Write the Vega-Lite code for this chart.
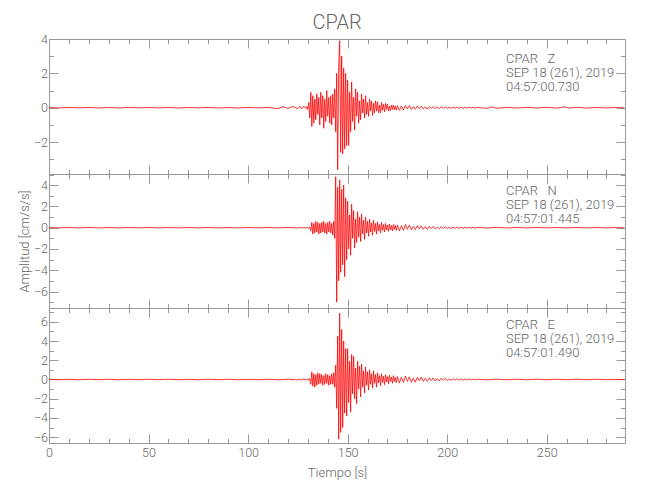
{
  "$schema": "https://vega.github.io/schema/vega-lite/v6.json",
  "padding": {"left": 17, "top": 12, "right": 5, "bottom": 5},
  "background": "white",
  "spacing": 0,
  "bounds": "flush",
  "title": {"text": "CPAR", "fontSize": 20, "font": "Roboto", "fontWeight": 300, "color": "#666", "anchor": "middle", "frame": "group", "offset": 0},
  "datasets": {
    "Z": [
      {"t":0,"a":0.015},{"t":5,"a":-0.015},{"t":10,"a":0.015},{"t":15,"a":-0.01},{"t":20,"a":0.015},{"t":25,"a":-0.015},{"t":30,"a":0.01},{"t":35,"a":-0.015},{"t":40,"a":0.015},{"t":45,"a":-0.01},{"t":50,"a":0.015},{"t":55,"a":-0.015},{"t":60,"a":0.01},{"t":65,"a":-0.015},{"t":70,"a":0.015},{"t":75,"a":-0.01},{"t":80,"a":0.015},{"t":85,"a":-0.015},{"t":90,"a":0.01},{"t":95,"a":-0.015},{"t":100,"a":0.015},{"t":105,"a":-0.01},{"t":110,"a":0.015},{"t":115,"a":-0.05},{"t":117.5,"a":0.06},{"t":120,"a":-0.04},{"t":122.5,"a":0.07},{"t":125,"a":-0.06},{"t":126,"a":0.08},{"t":127,"a":-0.07},{"t":128,"a":0.09},{"t":129,"a":-0.06},{"t":129.5,"a":0.08},{"t":130,"a":-0.1},
      {"t":130.5,"a":0.3},{"t":131,"a":-0.6},{"t":131.5,"a":0.9},{"t":132,"a":-1.1},{"t":132.5,"a":0.7},{"t":133,"a":-0.9},{"t":133.5,"a":0.5},{"t":134,"a":-0.7},{"t":134.5,"a":0.8},{"t":135,"a":-0.4},{"t":135.5,"a":0.6},{"t":136,"a":-1.0},{"t":136.5,"a":0.9},{"t":137,"a":-0.6},{"t":137.5,"a":0.7},{"t":138,"a":-1.2},{"t":138.5,"a":0.5},{"t":139,"a":-0.8},{"t":139.5,"a":1.0},{"t":140,"a":-0.5},{"t":140.5,"a":0.6},{"t":141,"a":-0.9},{"t":141.5,"a":0.7},{"t":142,"a":-1.0},{"t":142.5,"a":0.8},{"t":143,"a":-0.6},{"t":143.5,"a":1.1},{"t":144,"a":-1.4},{"t":144.5,"a":2.0},{"t":145,"a":-3.6},{"t":145.5,"a":2.4},{"t":146,"a":3.9},{"t":146.5,"a":-2.6},{"t":147,"a":3.0},{"t":147.5,"a":-2.7},{"t":148,"a":2.3},{"t":148.5,"a":-2.4},{"t":149,"a":2.0},{"t":149.5,"a":-2.2},
      {"t":150,"a":1.6},{"t":150.5,"a":-2.2},{"t":151,"a":0.9},{"t":151.5,"a":-1.4},{"t":152,"a":1.5},{"t":152.5,"a":-0.8},{"t":153,"a":0.6},{"t":153.5,"a":-1.3},{"t":154,"a":1.1},{"t":154.5,"a":-0.5},{"t":155,"a":0.9},{"t":155.5,"a":-0.9},{"t":156,"a":0.4},{"t":156.5,"a":-0.7},{"t":157,"a":0.8},{"t":157.5,"a":-0.3},{"t":158,"a":0.5},{"t":158.5,"a":-0.6},{"t":159,"a":0.7},{"t":159.5,"a":-0.4},{"t":160,"a":0.3},{"t":160.5,"a":-0.5},{"t":161,"a":0.5},{"t":161.5,"a":-0.2},{"t":162,"a":0.4},{"t":162.5,"a":-0.45},{"t":163,"a":0.25},{"t":163.5,"a":-0.3},{"t":164,"a":0.4},{"t":164.5,"a":-0.2},{"t":165,"a":0.35},{"t":165.5,"a":-0.3},{"t":166,"a":0.15},{"t":166.5,"a":-0.3},{"t":167,"a":0.3},{"t":167.5,"a":-0.15},{"t":168,"a":0.2},{"t":168.5,"a":-0.25},{"t":169,"a":0.25},{"t":169.5,"a":-0.1},{"t":170,"a":0.2},{"t":170.5,"a":-0.2},{"t":171,"a":0.1},{"t":171.5,"a":-0.18},{"t":172,"a":0.15},{"t":172.5,"a":-0.1},{"t":173,"a":0.16},{"t":173.5,"a":-0.12},{"t":174,"a":0.08},{"t":174.5,"a":-0.14},{"t":175,"a":0.12},
      {"t":176,"a":-0.15},{"t":177,"a":0.1},{"t":178,"a":-0.14},{"t":179,"a":0.13},{"t":180,"a":-0.07},{"t":181,"a":0.12},{"t":182,"a":-0.1},{"t":183,"a":0.06},{"t":184,"a":-0.09},{"t":185,"a":0.1},{"t":186,"a":-0.05},{"t":187,"a":0.09},{"t":188,"a":-0.08},{"t":189,"a":0.05},{"t":190,"a":-0.08},{"t":191,"a":0.07},{"t":192,"a":-0.04},{"t":193,"a":0.07},{"t":194,"a":-0.06},{"t":195,"a":0.04},{"t":196,"a":-0.05},{"t":197,"a":0.06},{"t":198,"a":-0.03},{"t":199,"a":0.05},{"t":200,"a":-0.05},{"t":201,"a":0.03},{"t":202,"a":-0.04},{"t":203,"a":0.05},{"t":204,"a":-0.03},{"t":205,"a":0.04},{"t":206,"a":-0.04},{"t":207,"a":0.03},{"t":208,"a":-0.04},{"t":209,"a":0.03},{"t":210,"a":-0.03},{"t":211,"a":0.04},{"t":212,"a":-0.02},{"t":213,"a":0.03},{"t":214,"a":-0.03},{"t":215,"a":0.02},
      {"t":220,"a":-0.04},{"t":222,"a":0.05},{"t":225,"a":-0.03},{"t":230,"a":0.02},{"t":235,"a":-0.02},{"t":240,"a":0.02},{"t":245,"a":-0.02},{"t":250,"a":0.02},{"t":255,"a":-0.02},{"t":259,"a":0.05},{"t":261,"a":-0.02},{"t":265,"a":0.02},{"t":270,"a":-0.02},{"t":275,"a":0.015},{"t":280,"a":-0.015},{"t":285,"a":0.015},{"t":289,"a":-0.01}
    ],
    "N": [
      {"t":0,"a":0.02},{"t":5,"a":-0.02},{"t":10,"a":0.02},{"t":15,"a":-0.015},{"t":20,"a":0.02},{"t":25,"a":-0.02},{"t":30,"a":0.015},{"t":35,"a":-0.02},{"t":40,"a":0.02},{"t":45,"a":-0.015},{"t":50,"a":0.02},{"t":55,"a":-0.02},{"t":60,"a":0.015},{"t":65,"a":-0.02},{"t":70,"a":0.02},{"t":75,"a":-0.015},{"t":80,"a":0.02},{"t":85,"a":-0.02},{"t":90,"a":0.015},{"t":95,"a":-0.02},{"t":100,"a":0.02},{"t":105,"a":-0.015},{"t":110,"a":0.02},{"t":115,"a":-0.02},{"t":120,"a":0.03},{"t":125,"a":-0.03},{"t":126,"a":0.04},{"t":127,"a":-0.04},{"t":128,"a":0.05},{"t":129,"a":-0.04},{"t":130,"a":0.05},{"t":130.5,"a":-0.07},
      {"t":131,"a":0.05},{"t":131.5,"a":-0.3},{"t":132,"a":0.5},{"t":132.5,"a":-0.6},{"t":133,"a":0.4},{"t":133.5,"a":-0.5},{"t":134,"a":0.6},{"t":134.5,"a":-0.4},{"t":135,"a":0.5},{"t":135.5,"a":-0.6},{"t":136,"a":0.4},{"t":136.5,"a":-0.5},{"t":137,"a":0.5},{"t":137.5,"a":-0.4},{"t":138,"a":0.6},{"t":138.5,"a":-0.5},{"t":139,"a":0.4},{"t":139.5,"a":-0.6},{"t":140,"a":0.5},{"t":140.5,"a":-0.4},{"t":141,"a":0.6},{"t":141.5,"a":-0.5},{"t":142,"a":0.4},{"t":142.5,"a":-0.7},{"t":143,"a":0.6},{"t":143.5,"a":-1.0},{"t":144,"a":4.8},{"t":144.5,"a":-7.0},{"t":145,"a":3.8},{"t":145.5,"a":-5.0},{"t":146,"a":4.5},{"t":146.5,"a":-4.2},{"t":147,"a":3.6},{"t":147.5,"a":-3.5},{"t":148,"a":4.0},{"t":148.5,"a":-4.6},{"t":149,"a":2.8},{"t":149.5,"a":-3.0},
      {"t":150,"a":2.5},{"t":150.5,"a":-2.0},{"t":151,"a":1.2},{"t":151.5,"a":-2.6},{"t":152,"a":2.2},{"t":152.5,"a":-1.0},{"t":153,"a":1.6},{"t":153.5,"a":-1.9},{"t":154,"a":0.8},{"t":154.5,"a":-1.4},{"t":155,"a":1.5},{"t":155.5,"a":-0.9},{"t":156,"a":1.0},{"t":156.5,"a":-1.3},{"t":157,"a":1.3},{"t":157.5,"a":-0.6},{"t":158,"a":0.7},{"t":158.5,"a":-1.1},{"t":159,"a":1.0},{"t":159.5,"a":-0.5},{"t":160,"a":0.6},{"t":160.5,"a":-0.8},{"t":161,"a":0.8},{"t":161.5,"a":-0.4},{"t":162,"a":0.45},{"t":162.5,"a":-0.7},{"t":163,"a":0.7},{"t":163.5,"a":-0.35},{"t":164,"a":0.4},{"t":164.5,"a":-0.6},{"t":165,"a":0.55},{"t":165.5,"a":-0.3},{"t":166,"a":0.3},{"t":166.5,"a":-0.5},{"t":167,"a":0.5},{"t":167.5,"a":-0.25},{"t":168,"a":0.3},{"t":168.5,"a":-0.4},{"t":169,"a":0.4},{"t":169.5,"a":-0.2},{"t":170,"a":0.25},{"t":170.5,"a":-0.35},{"t":171,"a":0.35},{"t":171.5,"a":-0.2},{"t":172,"a":0.2},{"t":172.5,"a":-0.3},{"t":173,"a":0.3},{"t":173.5,"a":-0.15},{"t":174,"a":0.2},{"t":174.5,"a":-0.25},{"t":175,"a":0.25},
      {"t":176,"a":-0.3},{"t":177,"a":0.2},{"t":178,"a":-0.25},{"t":179,"a":0.3},{"t":180,"a":-0.15},{"t":181,"a":0.25},{"t":182,"a":-0.2},{"t":183,"a":0.12},{"t":184,"a":-0.18},{"t":185,"a":0.2},{"t":186,"a":-0.1},{"t":187,"a":0.17},{"t":188,"a":-0.16},{"t":189,"a":0.1},{"t":190,"a":-0.15},{"t":191,"a":0.14},{"t":192,"a":-0.08},{"t":193,"a":0.13},{"t":194,"a":-0.12},{"t":195,"a":0.07},{"t":196,"a":-0.11},{"t":197,"a":0.1},{"t":198,"a":-0.06},{"t":199,"a":0.1},{"t":200,"a":-0.08},{"t":201,"a":0.05},{"t":202,"a":-0.08},{"t":203,"a":0.07},{"t":204,"a":-0.05},{"t":205,"a":0.07},{"t":206,"a":-0.06},{"t":207,"a":0.04},{"t":208,"a":-0.06},{"t":209,"a":0.05},{"t":210,"a":-0.04},{"t":211,"a":0.05},{"t":212,"a":-0.04},{"t":213,"a":0.03},{"t":214,"a":-0.04},{"t":215,"a":0.03},
      {"t":220,"a":-0.03},{"t":225,"a":0.03},{"t":230,"a":-0.025},{"t":235,"a":0.03},{"t":240,"a":-0.025},{"t":245,"a":0.025},{"t":250,"a":-0.02},{"t":255,"a":0.025},{"t":260,"a":-0.02},{"t":265,"a":0.02},{"t":270,"a":-0.02},{"t":275,"a":0.02},{"t":280,"a":-0.015},{"t":285,"a":0.015},{"t":289,"a":-0.01}
    ],
    "E": [
      {"t":0,"a":0.025},{"t":5,"a":-0.025},{"t":10,"a":0.02},{"t":15,"a":-0.025},{"t":20,"a":0.025},{"t":25,"a":-0.02},{"t":30,"a":0.025},{"t":35,"a":-0.025},{"t":40,"a":0.02},{"t":45,"a":-0.025},{"t":50,"a":0.025},{"t":55,"a":-0.02},{"t":60,"a":0.025},{"t":65,"a":-0.025},{"t":70,"a":0.02},{"t":75,"a":-0.025},{"t":80,"a":0.025},{"t":85,"a":-0.02},{"t":90,"a":0.025},{"t":95,"a":-0.025},{"t":100,"a":0.02},{"t":105,"a":-0.025},{"t":110,"a":0.025},{"t":115,"a":-0.03},{"t":120,"a":0.03},{"t":125,"a":-0.04},{"t":126,"a":0.05},{"t":127,"a":-0.05},{"t":128,"a":0.06},{"t":129,"a":-0.05},{"t":130,"a":0.06},{"t":130.5,"a":-0.09},
      {"t":131,"a":0.1},{"t":131.5,"a":-0.5},{"t":132,"a":0.8},{"t":132.5,"a":-0.7},{"t":133,"a":0.6},{"t":133.5,"a":-0.8},{"t":134,"a":0.5},{"t":134.5,"a":-0.6},{"t":135,"a":0.7},{"t":135.5,"a":-0.5},{"t":136,"a":0.6},{"t":136.5,"a":-0.4},{"t":137,"a":0.5},{"t":137.5,"a":-0.6},{"t":138,"a":0.4},{"t":138.5,"a":-0.5},{"t":139,"a":0.6},{"t":139.5,"a":-0.4},{"t":140,"a":0.5},{"t":140.5,"a":-0.6},{"t":141,"a":0.4},{"t":141.5,"a":-0.5},{"t":142,"a":0.6},{"t":142.5,"a":-0.5},{"t":143,"a":0.7},{"t":143.5,"a":-0.8},{"t":144,"a":1.5},{"t":144.5,"a":-3.0},{"t":145,"a":4.5},{"t":145.5,"a":-6.2},{"t":146,"a":6.9},{"t":146.5,"a":-5.5},{"t":147,"a":5.2},{"t":147.5,"a":-5.0},{"t":148,"a":4.0},{"t":148.5,"a":-3.5},{"t":149,"a":3.2},{"t":149.5,"a":-3.8},
      {"t":150,"a":3.2},{"t":150.5,"a":-2.4},{"t":151,"a":1.9},{"t":151.5,"a":-3.4},{"t":152,"a":2.6},{"t":152.5,"a":-1.5},{"t":153,"a":2.4},{"t":153.5,"a":-2.0},{"t":154,"a":1.2},{"t":154.5,"a":-2.5},{"t":155,"a":1.9},{"t":155.5,"a":-1.0},{"t":156,"a":1.4},{"t":156.5,"a":-1.8},{"t":157,"a":1.6},{"t":157.5,"a":-0.8},{"t":158,"a":0.9},{"t":158.5,"a":-1.4},{"t":159,"a":1.3},{"t":159.5,"a":-0.6},{"t":160,"a":0.8},{"t":160.5,"a":-1.1},{"t":161,"a":1.0},{"t":161.5,"a":-0.5},{"t":162,"a":0.6},{"t":162.5,"a":-0.9},{"t":163,"a":0.9},{"t":163.5,"a":-0.4},{"t":164,"a":0.5},{"t":164.5,"a":-0.8},{"t":165,"a":0.7},{"t":165.5,"a":-0.35},{"t":166,"a":0.4},{"t":166.5,"a":-0.65},{"t":167,"a":0.6},{"t":167.5,"a":-0.3},{"t":168,"a":0.35},{"t":168.5,"a":-0.55},{"t":169,"a":0.5},{"t":169.5,"a":-0.25},{"t":170,"a":0.3},{"t":170.5,"a":-0.45},{"t":171,"a":0.45},{"t":171.5,"a":-0.2},{"t":172,"a":0.25},{"t":172.5,"a":-0.4},{"t":173,"a":0.4},{"t":173.5,"a":-0.2},{"t":174,"a":0.2},{"t":174.5,"a":-0.35},{"t":175,"a":0.3},
      {"t":176,"a":-0.35},{"t":177,"a":0.25},{"t":178,"a":-0.3},{"t":179,"a":0.35},{"t":180,"a":-0.2},{"t":181,"a":0.28},{"t":182,"a":-0.3},{"t":183,"a":0.15},{"t":184,"a":-0.27},{"t":185,"a":0.24},{"t":186,"a":-0.12},{"t":187,"a":0.25},{"t":188,"a":-0.2},{"t":189,"a":0.12},{"t":190,"a":-0.2},{"t":191,"a":0.18},{"t":192,"a":-0.1},{"t":193,"a":0.17},{"t":194,"a":-0.16},{"t":195,"a":0.09},{"t":196,"a":-0.15},{"t":197,"a":0.13},{"t":198,"a":-0.08},{"t":199,"a":0.12},{"t":200,"a":-0.11},{"t":201,"a":0.07},{"t":202,"a":-0.1},{"t":203,"a":0.09},{"t":204,"a":-0.06},{"t":205,"a":0.08},{"t":206,"a":-0.07},{"t":207,"a":0.05},{"t":208,"a":-0.07},{"t":209,"a":0.06},{"t":210,"a":-0.05},{"t":211,"a":0.06},{"t":212,"a":-0.05},{"t":213,"a":0.04},{"t":214,"a":-0.05},{"t":215,"a":0.04},
      {"t":220,"a":-0.04},{"t":225,"a":0.04},{"t":230,"a":-0.035},{"t":235,"a":0.035},{"t":240,"a":-0.03},{"t":245,"a":0.03},{"t":250,"a":-0.03},{"t":255,"a":0.03},{"t":260,"a":-0.025},{"t":265,"a":0.03},{"t":270,"a":-0.025},{"t":275,"a":0.025},{"t":280,"a":-0.02},{"t":285,"a":0.02},{"t":289,"a":-0.02}
    ],
    "Zt": [{"t":229.5,"a":3.2,"txt":"CPAR\u00a0\u00a0\u00a0Z\nSEP\u00a018\u00a0(261),\u00a02019\n04:57:00.730"}],
    "Nt": [{"t":229.5,"a":4.03,"txt":"CPAR\u00a0\u00a0\u00a0N\nSEP\u00a018\u00a0(261),\u00a02019\n04:57:01.445"}],
    "Et": [{"t":229.5,"a":6.28,"txt":"CPAR\u00a0\u00a0\u00a0E\nSEP\u00a018\u00a0(261),\u00a02019\n04:57:01.490"}]
  },
  "vconcat": [
    {
      "width": 576, "height": 135,
      "layer": [
        {
          "data": {"name": "Z"},
          "mark": {"type": "line", "color": "#ff0000", "strokeWidth": 0.8, "clip": true},
          "encoding": {
            "x": {"field": "t", "type": "quantitative", "scale": {"domain": [0, 289.3], "nice": false, "zero": false},
                  "axis": {"orient": "bottom", "title": null, "labels": false, "values": [0,10,20,30,40,50,60,70,80,90,100,110,120,130,140,150,160,170,180,190,200,210,220,230,240,250,260,270,280],
                           "tickSize": {"condition": {"test": "datum.value % 50 === 0", "value": -9}, "value": -4.5}}},
            "y": {"field": "a", "type": "quantitative", "scale": {"domain": [-3.86, 4], "nice": false, "zero": false},
                  "axis": {"orient": "left", "title": null, "values": [-3,-2,-1,0,1,2,3,4], "labelExpr": "datum.value % 2 === 0 ? datum.label : ''", "labelPadding": 10.5,
                           "tickSize": {"condition": {"test": "datum.value % 2 === 0", "value": -9}, "value": -4.5}}}
          }
        },
        {
          "data": {"name": "Zt"},
          "mark": {"type": "text", "align": "left", "baseline": "top", "lineBreak": "\n", "fontSize": 13, "lineHeight": 14, "font": "Roboto", "fontWeight": 300, "color": "#666"},
          "encoding": {
            "x": {"field": "t", "type": "quantitative", "axis": {"orient": "top", "title": null, "labels": false, "values": [0,10,20,30,40,50,60,70,80,90,100,110,120,130,140,150,160,170,180,190,200,210,220,230,240,250,260,270,280],
                           "tickSize": {"condition": {"test": "datum.value % 50 === 0", "value": -9}, "value": -4.5}}},
            "y": {"field": "a", "type": "quantitative", "axis": {"orient": "right", "title": null, "labels": false, "values": [-3,-2,-1,0,1,2,3,4],
                           "tickSize": {"condition": {"test": "datum.value % 2 === 0", "value": -9}, "value": -4.5}}},
            "text": {"field": "txt", "type": "nominal"}
          }
        }
      ],
      "resolve": {"axis": {"x": "independent", "y": "independent"}}
    },
    {
      "width": 576, "height": 134,
      "layer": [
        {
          "data": {"name": "N"},
          "mark": {"type": "line", "color": "#ff0000", "strokeWidth": 0.8, "clip": true},
          "encoding": {
            "x": {"field": "t", "type": "quantitative", "scale": {"domain": [0, 289.3], "nice": false, "zero": false},
                  "axis": {"orient": "bottom", "title": null, "labels": false, "values": [0,10,20,30,40,50,60,70,80,90,100,110,120,130,140,150,160,170,180,190,200,210,220,230,240,250,260,270,280],
                           "tickSize": {"condition": {"test": "datum.value % 50 === 0", "value": -9}, "value": -4.5}}},
            "y": {"field": "a", "type": "quantitative", "scale": {"domain": [-7.55, 5.05], "nice": false, "zero": false},
                  "axis": {"orient": "left", "title": "Amplitud [cm/s/s]", "titlePadding": 2, "values": [-7,-6,-5,-4,-3,-2,-1,0,1,2,3,4,5], "labelExpr": "datum.value % 2 === 0 ? datum.label : ''", "labelPadding": 10.5,
                           "tickSize": {"condition": {"test": "datum.value % 2 === 0", "value": -9}, "value": -4.5}}}
          }
        },
        {
          "data": {"name": "Nt"},
          "mark": {"type": "text", "align": "left", "baseline": "top", "lineBreak": "\n", "fontSize": 13, "lineHeight": 14, "font": "Roboto", "fontWeight": 300, "color": "#666"},
          "encoding": {
            "x": {"field": "t", "type": "quantitative", "axis": {"orient": "top", "title": null, "labels": false, "values": [0,10,20,30,40,50,60,70,80,90,100,110,120,130,140,150,160,170,180,190,200,210,220,230,240,250,260,270,280],
                           "tickSize": {"condition": {"test": "datum.value % 50 === 0", "value": -9}, "value": -4.5}}},
            "y": {"field": "a", "type": "quantitative", "axis": {"orient": "right", "title": null, "labels": false, "values": [-7,-6,-5,-4,-3,-2,-1,0,1,2,3,4,5],
                           "tickSize": {"condition": {"test": "datum.value % 2 === 0", "value": -9}, "value": -4.5}}},
            "text": {"field": "txt", "type": "nominal"}
          }
        }
      ],
      "resolve": {"axis": {"x": "independent", "y": "independent"}}
    },
    {
      "width": 576, "height": 135,
      "layer": [
        {
          "data": {"name": "E"},
          "mark": {"type": "line", "color": "#ff0000", "strokeWidth": 0.8, "clip": true},
          "encoding": {
            "x": {"field": "t", "type": "quantitative", "scale": {"domain": [0, 289.3], "nice": false, "zero": false},
                  "axis": {"orient": "bottom", "title": "Tiempo [s]", "titlePadding": 3, "values": [0,10,20,30,40,50,60,70,80,90,100,110,120,130,140,150,160,170,180,190,200,210,220,230,240,250,260,270,280], "labelExpr": "datum.value % 50 === 0 ? datum.label : ''", "labelPadding": 12,
                           "tickSize": {"condition": {"test": "datum.value % 50 === 0", "value": -9}, "value": -4.5}}},
            "y": {"field": "a", "type": "quantitative", "scale": {"domain": [-6.6, 7.43], "nice": false, "zero": false},
                  "axis": {"orient": "left", "title": null, "values": [-6,-5,-4,-3,-2,-1,0,1,2,3,4,5,6,7], "labelExpr": "datum.value % 2 === 0 ? datum.label : ''", "labelPadding": 10.5,
                           "tickSize": {"condition": {"test": "datum.value % 2 === 0", "value": -9}, "value": -4.5}}}
          }
        },
        {
          "data": {"name": "Et"},
          "mark": {"type": "text", "align": "left", "baseline": "top", "lineBreak": "\n", "fontSize": 13, "lineHeight": 14, "font": "Roboto", "fontWeight": 300, "color": "#666"},
          "encoding": {
            "x": {"field": "t", "type": "quantitative", "axis": {"orient": "top", "title": null, "labels": false, "values": [0,10,20,30,40,50,60,70,80,90,100,110,120,130,140,150,160,170,180,190,200,210,220,230,240,250,260,270,280],
                           "tickSize": {"condition": {"test": "datum.value % 50 === 0", "value": -9}, "value": -4.5}}},
            "y": {"field": "a", "type": "quantitative", "axis": {"orient": "right", "title": null, "labels": false, "values": [-6,-5,-4,-3,-2,-1,0,1,2,3,4,5,6,7],
                           "tickSize": {"condition": {"test": "datum.value % 2 === 0", "value": -9}, "value": -4.5}}},
            "text": {"field": "txt", "type": "nominal"}
          }
        }
      ],
      "resolve": {"axis": {"x": "independent", "y": "independent"}}
    }
  ],
  "config": {
    "view": {"stroke": "#999", "strokeWidth": 1},
    "axis": {"domain": false, "grid": false, "labelFont": "Roboto", "labelFontWeight": 300, "labelFontSize": 12.5, "labelColor": "#666", "tickColor": "#999", "tickWidth": 1, "labelOverlap": false, "labelFlush": false, "titleFont": "Roboto", "titleFontSize": 13, "titleFontWeight": 300, "titleColor": "#666"}
  }
}
